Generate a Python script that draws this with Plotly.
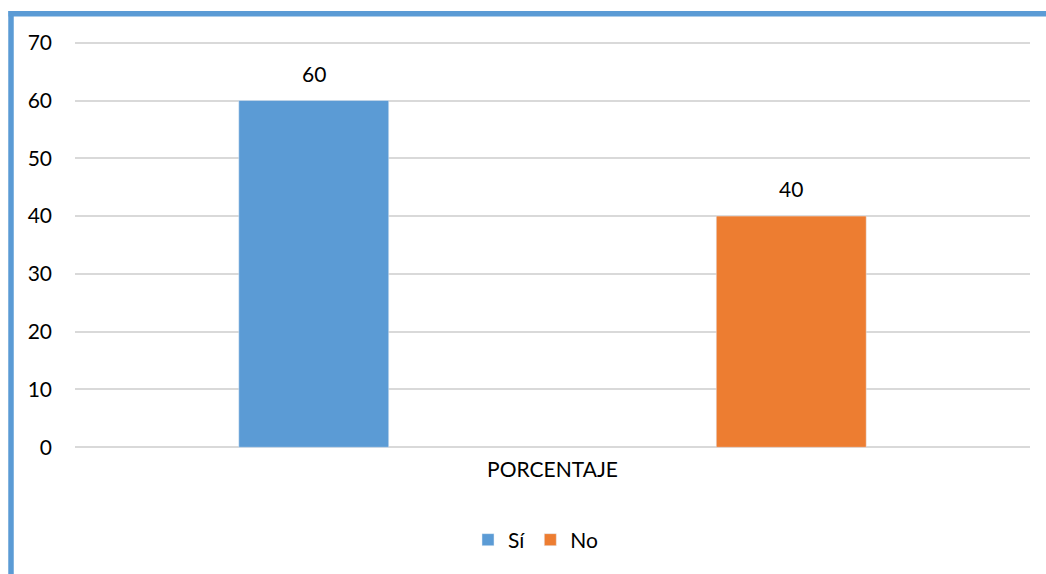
import plotly.graph_objects as go

categories = ["PORCENTAJE"]
series_names = ["Sí", "No"]
si_values = [60]
no_values = [40]
y_ticks = [0, 10, 20, 30, 40, 50, 60, 70]

colors = ["#5B9BD5", "#ED7D31"]
font_family = "Lato, 'Open Sans', sans-serif"
FS = 21

all_values = [si_values, no_values]

fig = go.Figure()
for name, vals, col in zip(series_names, all_values, colors):
    fig.add_trace(go.Bar(
        x=categories, y=vals, name=name, marker_color=col,
    ))

W, H = 1046, 574
ml, mr, mt, mb = 75, 16, 41, 125
pw, ph = W - ml - mr, H - mt - mb

def px_x(px):
    return (px - ml) / pw

def px_y(py):
    return 1 - (py - mt) / ph

# data labels above bars (grouped positions on the category axis)
n = len(all_values)
slot = 1.0 / n
annotations = []
for j, vals in enumerate(all_values):
    for i, v in enumerate(vals):
        annotations.append(dict(
            x=i - 0.5 + slot * (j + 0.5), y=v, xref="x", yref="y",
            text=str(v), showarrow=False, yanchor="bottom",
            yshift=13, font=dict(size=FS, color="#000000", family=font_family),
        ))

fig.update_layout(
    width=W, height=H,
    margin=dict(l=ml, r=mr, t=mt, b=mb),
    paper_bgcolor="white", plot_bgcolor="white",
    barmode="group", bargap=0.0, bargroupgap=0.686,
    font=dict(family=font_family, size=FS, color="#000000"),
    showlegend=True,
    legend=dict(orientation="h", x=px_x(536), xanchor="center",
                y=px_y(540), yanchor="middle",
                font=dict(size=FS, color="#000000"),
                itemwidth=30, traceorder="normal"),
    xaxis=dict(showgrid=False, showline=False, ticks="",
               tickfont=dict(size=FS, color="#000000"), ticklabelstandoff=6),
    yaxis=dict(range=[-0.3, 70.3], tickvals=y_ticks, showgrid=True,
               gridcolor="#D9D9D9", gridwidth=1.5, zeroline=False,
               showline=False, ticks="", ticklabelstandoff=22,
               tickfont=dict(size=FS, color="#000000")),
    annotations=annotations,
    shapes=[
        dict(type="line", xref="paper", yref="paper",
             x0=px_x(11), x1=px_x(11), y0=px_y(580), y1=px_y(11),
             line=dict(color="#5B9BD5", width=5.5)),
        dict(type="line", xref="paper", yref="paper",
             x0=px_x(8.5), x1=px_x(1050), y0=px_y(13.8), y1=px_y(13.8),
             line=dict(color="#5B9BD5", width=5.5)),
    ],
)

fig.write_html("out.html")
